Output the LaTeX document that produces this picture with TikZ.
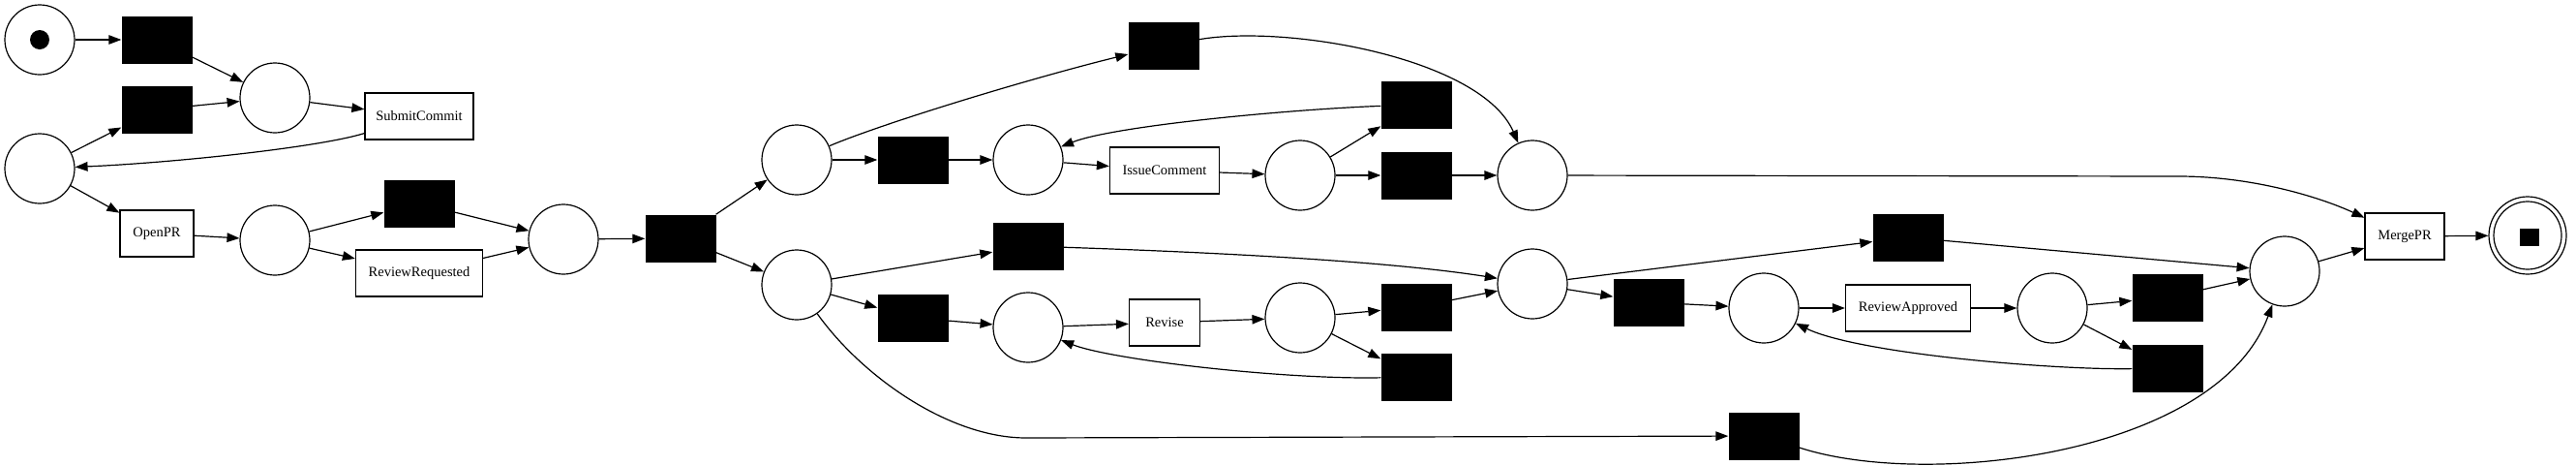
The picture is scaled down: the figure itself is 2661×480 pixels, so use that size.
\documentclass[tikz,border=0pt]{standalone}
\usepackage{fontspec}
\setmainfont{Liberation Serif}
\usetikzlibrary{arrows.meta}
\begin{document}
\begin{tikzpicture}[x=1pt,y=-1pt,
  place/.style={circle,draw,line width=1.2pt,minimum size=72pt,inner sep=0pt},
  blk/.style={rectangle,fill=black,minimum width=73pt,minimum height=49pt,inner sep=0pt},
  lbl/.style={rectangle,draw,line width=1.2pt,minimum height=48pt,inner sep=0pt,font=\fontsize{14.5}{17}\selectfont},
  arr/.style={line width=1.2pt,-{Triangle[length=13pt,width=9.5pt]}}]
\useasboundingbox (0,0) rectangle (2661,480);
% places
\node[place] (psrc) at (41,41) {};
\node[circle,fill=black,minimum size=20pt,inner sep=0pt] (tok) at (psrc) {};
\node[place] (p2) at (284,101) {};
\node[place] (p3) at (41,174) {};
\node[place] (p4) at (284,248) {};
\node[place] (p5) at (582,247) {};
\node[place] (p6) at (823,165) {};
\node[place] (p7) at (823,294) {};
\node[place] (p8) at (1062,165) {};
\node[place] (p9) at (1343,181) {};
\node[place] (p10) at (1583,181) {};
\node[place] (p11) at (1062,338) {};
\node[place] (p12) at (1343,328) {};
\node[place] (p13) at (1583,293) {};
\node[place] (p14) at (1822,318) {};
\node[place] (p15) at (2120,318) {};
\node[place] (p16) at (2360,280) {};
\node[place,minimum size=80pt] (pend) at (2611,243) {};
\node[circle,draw,line width=1.2pt,minimum size=70pt,inner sep=0pt] (pendin) at (pend) {};
\node[rectangle,fill=black,minimum width=20pt,minimum height=18pt,inner sep=0pt] (endmark) at (2613,245) {};
% silent transitions
\node[blk] (t1) at (162,41) {};
\node[blk] (t2) at (162,113) {};
\node[blk] (t3) at (433,210) {};
\node[blk] (t4) at (703,246) {};
\node[blk] (t5) at (943,165) {};
\node[blk] (t6) at (1062,254) {};
\node[blk] (t7) at (1202,47) {};
\node[blk] (t8) at (1463,108) {};
\node[blk] (t9) at (1463,181) {};
\node[blk] (t14) at (943,328) {};
\node[blk] (t11) at (1463,317) {};
\node[blk] (t12) at (1463,389) {};
\node[blk] (t16) at (1703,312) {};
\node[blk] (t15) at (1971,245) {};
\node[blk] (t17) at (2239,307) {};
\node[blk] (t18) at (2239,380) {};
\node[blk] (t19) at (1822,450) {};
% labelled transitions
\node[lbl,minimum width=112pt] (sc) at (433,120) {SubmitCommit};
\node[lbl,minimum width=76pt] (openpr) at (162,241) {OpenPR};
\node[lbl,minimum width=131pt] (rr) at (433,282) {ReviewRequested};
\node[lbl,minimum width=113pt] (ic) at (1203,176) {IssueComment};
\node[lbl,minimum width=73pt] (rev) at (1203,333) {Revise};
\node[lbl,minimum width=129pt] (ra) at (1971,318) {ReviewApproved};
\node[lbl,minimum width=82pt] (mpr) at (2484,244) {MergePR};
% arcs
\draw[arr] (psrc) -- (t1);
\draw[arr] (t1) -- (p2);
\draw[arr] (t2) -- (p2);
\draw[arr] (p2) -- (sc);
\draw[arr] (sc) .. controls (330,152) and (180,168) .. (p3);
\draw[arr] (p3) -- (t2);
\draw[arr] (p3) -- (openpr);
\draw[arr] (openpr) -- (p4);
\draw[arr] (p4) -- (t3);
\draw[arr] (p4) -- (rr);
\draw[arr] (t3) -- (p5);
\draw[arr] (rr) -- (p5);
\draw[arr] (p5) -- (t4);
\draw[arr] (t4) -- (p6);
\draw[arr] (t4) -- (p7);
\draw[arr] (p6) .. controls (910,128) and (1060,82) .. (t7);
\draw[arr] (p6) -- (t5);
\draw[arr] (t5) -- (p8);
\draw[arr] (p8) -- (ic);
\draw[arr] (ic) -- (p9);
\draw[arr] (p9) -- (t8);
\draw[arr] (p9) -- (t9);
\draw[arr] (t8) .. controls (1330,113) and (1150,130) .. (p8);
\draw[arr] (t9) -- (p10);
\draw[arr] (t7) .. controls (1330,25) and (1530,60) .. (p10);
\draw[arr] (p10) -- (2250,182) .. controls (2330,182) and (2400,205) .. (mpr);
\draw[arr] (p7) -- (t6);
\draw[arr] (t6) .. controls (1300,262) and (1450,272) .. (p13);
\draw[arr] (p7) -- (t14);
\draw[arr] (t14) -- (p11);
\draw[arr] (p11) -- (rev);
\draw[arr] (rev) -- (p12);
\draw[arr] (p12) -- (t11);
\draw[arr] (p12) -- (t12);
\draw[arr] (t12) .. controls (1330,392) and (1150,372) .. (p11);
\draw[arr] (t11) -- (p13);
\draw[arr] (p7) .. controls (890,388) and (980,452) .. (1060,452) -- (t19);
\draw[arr] (t19) .. controls (1990,505) and (2290,470) .. (p16);
\draw[arr] (p13) -- (t15);
\draw[arr] (p13) -- (t16);
\draw[arr] (t15) -- (p16);
\draw[arr] (t16) -- (p14);
\draw[arr] (p14) -- (ra);
\draw[arr] (ra) -- (p15);
\draw[arr] (p15) -- (t17);
\draw[arr] (p15) -- (t18);
\draw[arr] (t18) .. controls (2120,382) and (1920,365) .. (p14);
\draw[arr] (t17) -- (p16);
\draw[arr] (p16) -- (mpr);
\draw[arr] (mpr) -- (pend);
\end{tikzpicture}
\end{document}
